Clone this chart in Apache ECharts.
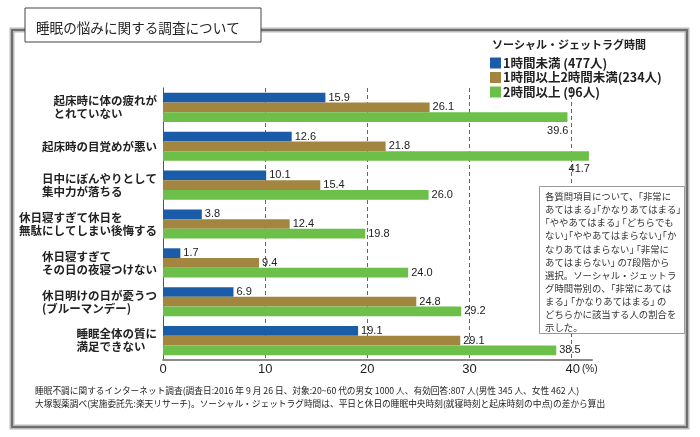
<!DOCTYPE html>
<html><head><meta charset="utf-8">
<script src="https://cdn.jsdelivr.net/npm/echarts@6/dist/echarts.min.js"></script>
<style>html,body{margin:0;padding:0;background:#fff}#c{width:700px;height:437px}</style>
</head><body><div id="c"></div>
<script>
const categories = [
  ['起床時に体の疲れが', 'とれていない'],
  ['起床時の目覚めが悪い'],
  ['日中にぼんやりとして', '集中力が落ちる'],
  ['休日寝すぎて休日を', '無駄にしてしまい後悔する'],
  ['休日寝すぎて', 'その日の夜寝つけない'],
  ['休日明けの日が憂うつ', '(ブルーマンデー)'],
  ['睡眠全体の質に', '満足できない']
];
const seriesNames = ['1時間未満 (477人)', '1時間以上2時間未満(234人)', '2時間以上 (96人)'];
const under1h = [15.9, 12.6, 10.1, 3.8, 1.7, 6.9, 19.1];
const from1to2h = [26.1, 21.8, 15.4, 12.4, 9.4, 24.8, 29.1];
const over2h = [39.6, 41.7, 26.0, 19.8, 24.0, 29.2, 38.5];
const xTicks = [0, 10, 20, 30, 40];
const legendTitle = 'ソーシャル・ジェットラグ時間';
const mainTitle = '睡眠の悩みに関する調査について';
const noteLines = [
  '各質問項目について、｢非常に',
  'あてはまる｣｢かなりあてはまる｣',
  '｢ややあてはまる｣ ｢どちらでも',
  'ない｣｢ややあてはまらない｣｢か',
  'なりあてはまらない｣ ｢非常に',
  'あてはまらない｣ の7段階から',
  '選択。ソーシャル・ジェットラ',
  'グ時間帯別の、｢非常にあては',
  'まる｣ ｢かなりあてはまる｣ の',
  'どちらかに該当する人の割合を',
  '示した。'
];
const footLines = [
  '睡眠不調に関するインターネット調査(調査日:2016 年 9 月 26 日、対象:20~60 代の男女 1000 人、有効回答:807 人(男性 345 人、女性 462 人)',
  '大塚製薬調べ(実施委託先:楽天リサーチ)。ソーシャル・ジェットラグ時間は、平日と休日の睡眠中央時刻(就寝時刻と起床時刻の中点)の差から算出'
];
const colors = ['#1b5ca8', '#a2853e', '#6cbf48'];
const belowLabelIdx = [0, 1]; // green labels drawn below the bar

const FONT = '"Noto Sans CJK JP", "Noto Sans", sans-serif';
const CAT_FONT_SIZE = 11.5;
const catKeys = categories.map(c => c.join('\n'));

// measure lines so that multi-line labels are left-aligned inside a right-aligned block
const mctx = document.createElement('canvas').getContext('2d');
mctx.font = 'bold ' + CAT_FONT_SIZE + 'px ' + FONT;
const catRich = {};
const catFmt = {};
categories.forEach((lines, k) => {
  const ws = lines.map(s => mctx.measureText(s).width);
  const mw = Math.max.apply(null, ws);
  catFmt[catKeys[k]] = lines.map((s, j) => {
    const name = 'c' + k + '_' + j;
    catRich[name] = { fontSize: CAT_FONT_SIZE, fontWeight: 'bold', color: '#222', lineHeight: 13,
      fontFamily: FONT, padding: [0, mw - ws[j], 0, 0] };
    return '{' + name + '|' + s + '}';
  }).join('\n');
});

function mk(vals, i) {
  return vals.map((v, k) => {
    const d = { value: v };
    if (i === 2 && belowLabelIdx.indexOf(k) >= 0) {
      d.label = { position: ['100%', '100%'], align: 'right', verticalAlign: 'top', offset: [1, 3] };
    }
    return d;
  });
}

const chart = echarts.init(document.getElementById('c'), null, { renderer: 'canvas' });
const option = {
  animation: false,
  backgroundColor: '#fff',
  textStyle: { fontFamily: FONT },
  title: [
    { text: legendTitle, left: 492, top: 39, padding: 0, textStyle: { fontSize: 11, fontWeight: 'bold', color: '#222', fontFamily: FONT } }
  ],
  legend: {
    orient: 'vertical', left: 490, top: 56, padding: 0, itemWidth: 11, itemHeight: 11, itemGap: 0.5,
    icon: 'rect', data: seriesNames,
    textStyle: { fontSize: 12.5, lineHeight: 14, fontWeight: 'bold', color: '#222', padding: [0, 0, 0, -3], fontFamily: FONT }
  },
  grid: { left: 163, right: 108, top: 88, bottom: 77, containLabel: false },
  xAxis: {
    type: 'value', min: 0, max: 42, interval: 10,
    axisLine: { show: true, lineStyle: { color: '#8a8a8a', width: 2 } },
    axisTick: { show: false, customValues: xTicks },
    splitLine: { show: true, lineStyle: { color: '#666', type: [4, 3], width: 1 } },
    axisLabel: {
      show: true, margin: 3, color: '#222', fontSize: 13, fontFamily: 'Liberation Sans, Arial, sans-serif',
      customValues: xTicks,
      formatter: function (v) {
        if (v === 40) return '{s| }' + v + '{p|(%)}';
        return String(v);
      },
      rich: { s: { width: 20, fontSize: 10 }, p: { fontSize: 10, color: '#222', padding: [0, 0, 0, 2] } }
    }
  },
  yAxis: {
    type: 'category', inverse: true, data: catKeys,
    axisLine: { show: true, lineStyle: { color: '#555', width: 1 } },
    axisTick: { show: false },
    axisLabel: {
      margin: 6, color: '#222', fontSize: CAT_FONT_SIZE, fontWeight: 'bold', fontFamily: FONT, lineHeight: 13,
      formatter: function (v) { return catFmt[v]; },
      rich: catRich
    }
  },
  series: [under1h, from1to2h, over2h].map((vals, i) => ({
    type: 'bar', name: seriesNames[i], data: mk(vals, i),
    barGap: '0%', barCategoryGap: '25%',
    itemStyle: { color: colors[i] },
    label: {
      show: true, position: 'right', distance: 3, color: '#222', fontSize: 11,
      fontFamily: 'Liberation Sans, Arial, sans-serif',
      formatter: p => p.value.toFixed(1)
    }
  })),
  graphic: [
    // outer frame
    { type: 'rect', shape: { x: 12, y: 30, width: 675, height: 397 }, style: { fill: 'none', stroke: '#bbb', lineWidth: 5 }, z: 0 },
    { type: 'rect', shape: { x: 12, y: 30, width: 675, height: 397 }, style: { fill: 'none', stroke: '#6f6f6f', lineWidth: 2 }, z: 1 },
    // title box
    { type: 'rect', shape: { x: 25, y: 8, width: 236, height: 34 }, style: { fill: '#fff', stroke: '#444', lineWidth: 1 }, z: 5 },
    { type: 'text', x: 36, y: 28, style: { text: mainTitle, fill: '#222', font: '13.6px ' + FONT, verticalAlign: 'middle' }, z: 6 },
    // note box
    { type: 'rect', shape: { x: 539.5, y: 186.5, width: 145, height: 147 }, style: { fill: '#fff', stroke: '#999', lineWidth: 1 }, z: 5 },
    { type: 'text', x: 545, y: 190, style: { text: noteLines.join('\n'), font: '9.4px ' + FONT, fill: '#333', lineHeight: 13.1 }, z: 6 },
    // footnotes
    { type: 'text', x: 35, y: 384, style: { text: footLines.join('\n'), font: '8.7px ' + FONT, fill: '#222', lineHeight: 13 }, z: 6 }
  ]
};
chart.setOption(option);
</script>
</body></html>
